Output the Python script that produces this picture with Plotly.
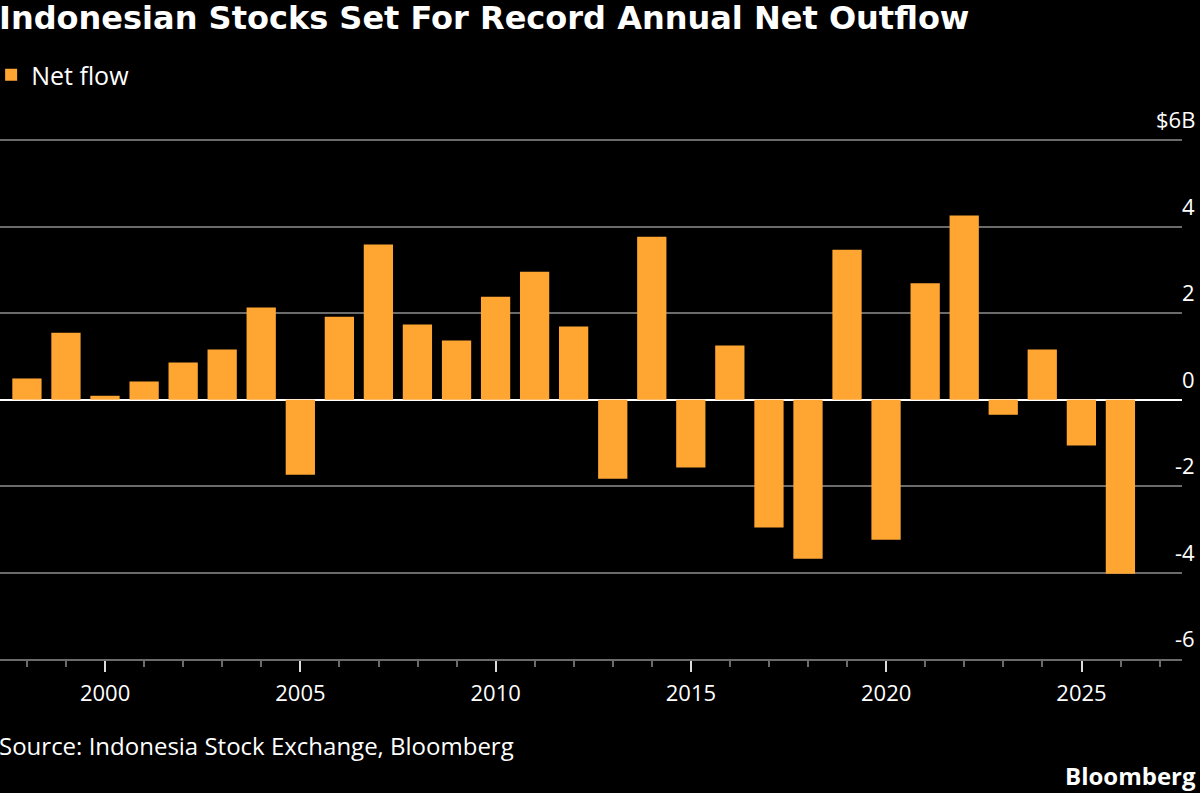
import plotly.graph_objects as go

# Data: annual net foreign flow into Indonesian stocks ($B)
years = [1997, 1998, 1999, 2000, 2001, 2002, 2003, 2004, 2005, 2006, 2007, 2008,
         2009, 2010, 2011, 2012, 2013, 2014, 2015, 2016, 2017, 2018, 2019, 2020,
         2021, 2022, 2023, 2024, 2025]
net_flow = [0.49, 1.55, 0.09, 0.42, 0.86, 1.16, 2.13, -1.74, 1.92, 3.59, 1.74,
            1.37, 2.38, 2.96, 1.69, -1.83, 3.77, -1.57, 1.25, -2.96, -3.68, 3.47,
            -3.24, 2.69, 4.26, -0.35, 1.16, -1.06, -4.03]

y_tickvals = [6, 4, 2, 0, -2, -4, -6]
y_ticktext = ["$6B", "4", "2", "0", "-2", "-4", "-6"]

title = "Indonesian Stocks Set For Record Annual Net Outflow"
source = "Source: Indonesia Stock Exchange, Bloomberg"
series_name = "Net flow"

ORANGE = "#ffa532"
GRID = "#6b6b6b"
FONT = "Open Sans, sans-serif"
TITLE_FONT = "DejaVu Sans, sans-serif"

# bars plotted at year end
x_dates = [f"{y}-12-31" for y in years]

fig = go.Figure()
fig.add_trace(go.Bar(
    x=x_dates, y=net_flow, name=series_name,
    marker=dict(color=ORANGE, line=dict(width=0)),
    showlegend=True,
))

annotations = []
for v, t in zip(y_tickvals, y_ticktext):
    annotations.append(dict(
        text=t, xref="paper", x=1, xshift=15, xanchor="right",
        yref="y", y=v, yshift=21, yanchor="middle",
        showarrow=False, font=dict(family=FONT, size=22, color="white"),
    ))

annotations.append(dict(
    text=f"<b>{title}</b>", xref="paper", yref="paper", x=0, y=1,
    xanchor="left", yanchor="middle", xshift=-3, yshift=121,
    showarrow=False, font=dict(family=TITLE_FONT, size=32, color="white"),
))
annotations.append(dict(
    text=source, xref="paper", yref="paper", x=0, y=0,
    xanchor="left", yanchor="middle", xshift=-3, yshift=-86,
    showarrow=False, font=dict(family=FONT, size=24, color="white"),
))
annotations.append(dict(
    text="<b>Bloomberg</b>", xref="paper", yref="paper", x=1, y=0,
    xanchor="right", yanchor="middle", xshift=16, yshift=-116,
    showarrow=False, font=dict(family=FONT, size=24, color="white"),
))

fig.update_layout(
    width=1200, height=793,
    paper_bgcolor="black", plot_bgcolor="black",
    margin=dict(l=0, r=18, t=139, b=134, autoexpand=False),
    bargap=0.25,
    font=dict(family=FONT, color="white", size=22),
    showlegend=True,
    legend=dict(
        x=-0.0075, y=1 + 64 / 520, xanchor="left", yanchor="middle",
        orientation="h",
        font=dict(family=FONT, size=25, color="white"),
        bgcolor="rgba(0,0,0,0)", itemwidth=30,
    ),
    annotations=annotations,
)

fig.update_xaxes(
    type="date",
    range=["1997-04-23", "2027-07-30"],
    tick0="2000-01-01", dtick="M60", tickformat="%Y",
    ticks="outside", ticklen=11, tickwidth=1.5, tickcolor="#dddddd",
    ticklabelstandoff=3,
    tickfont=dict(family=FONT, size=22, color="white"),
    showgrid=False, showline=True, linecolor=GRID, linewidth=1.5,
    minor=dict(dtick="M12", tick0="2000-01-01", ticks="outside", ticklen=6,
               tickwidth=1.5, tickcolor=GRID, showgrid=False),
    zeroline=False,
)
fig.update_yaxes(
    range=[-6, 6.03], tickvals=y_tickvals, showticklabels=False,
    showgrid=True, gridcolor=GRID, gridwidth=1.5,
    zeroline=True, zerolinecolor="white", zerolinewidth=2,
    fixedrange=True,
)

fig.write_html(
    "out.html",
    config={"displayModeBar": False},
    post_script="document.body.style.margin='0';document.body.style.background='black';",
)
